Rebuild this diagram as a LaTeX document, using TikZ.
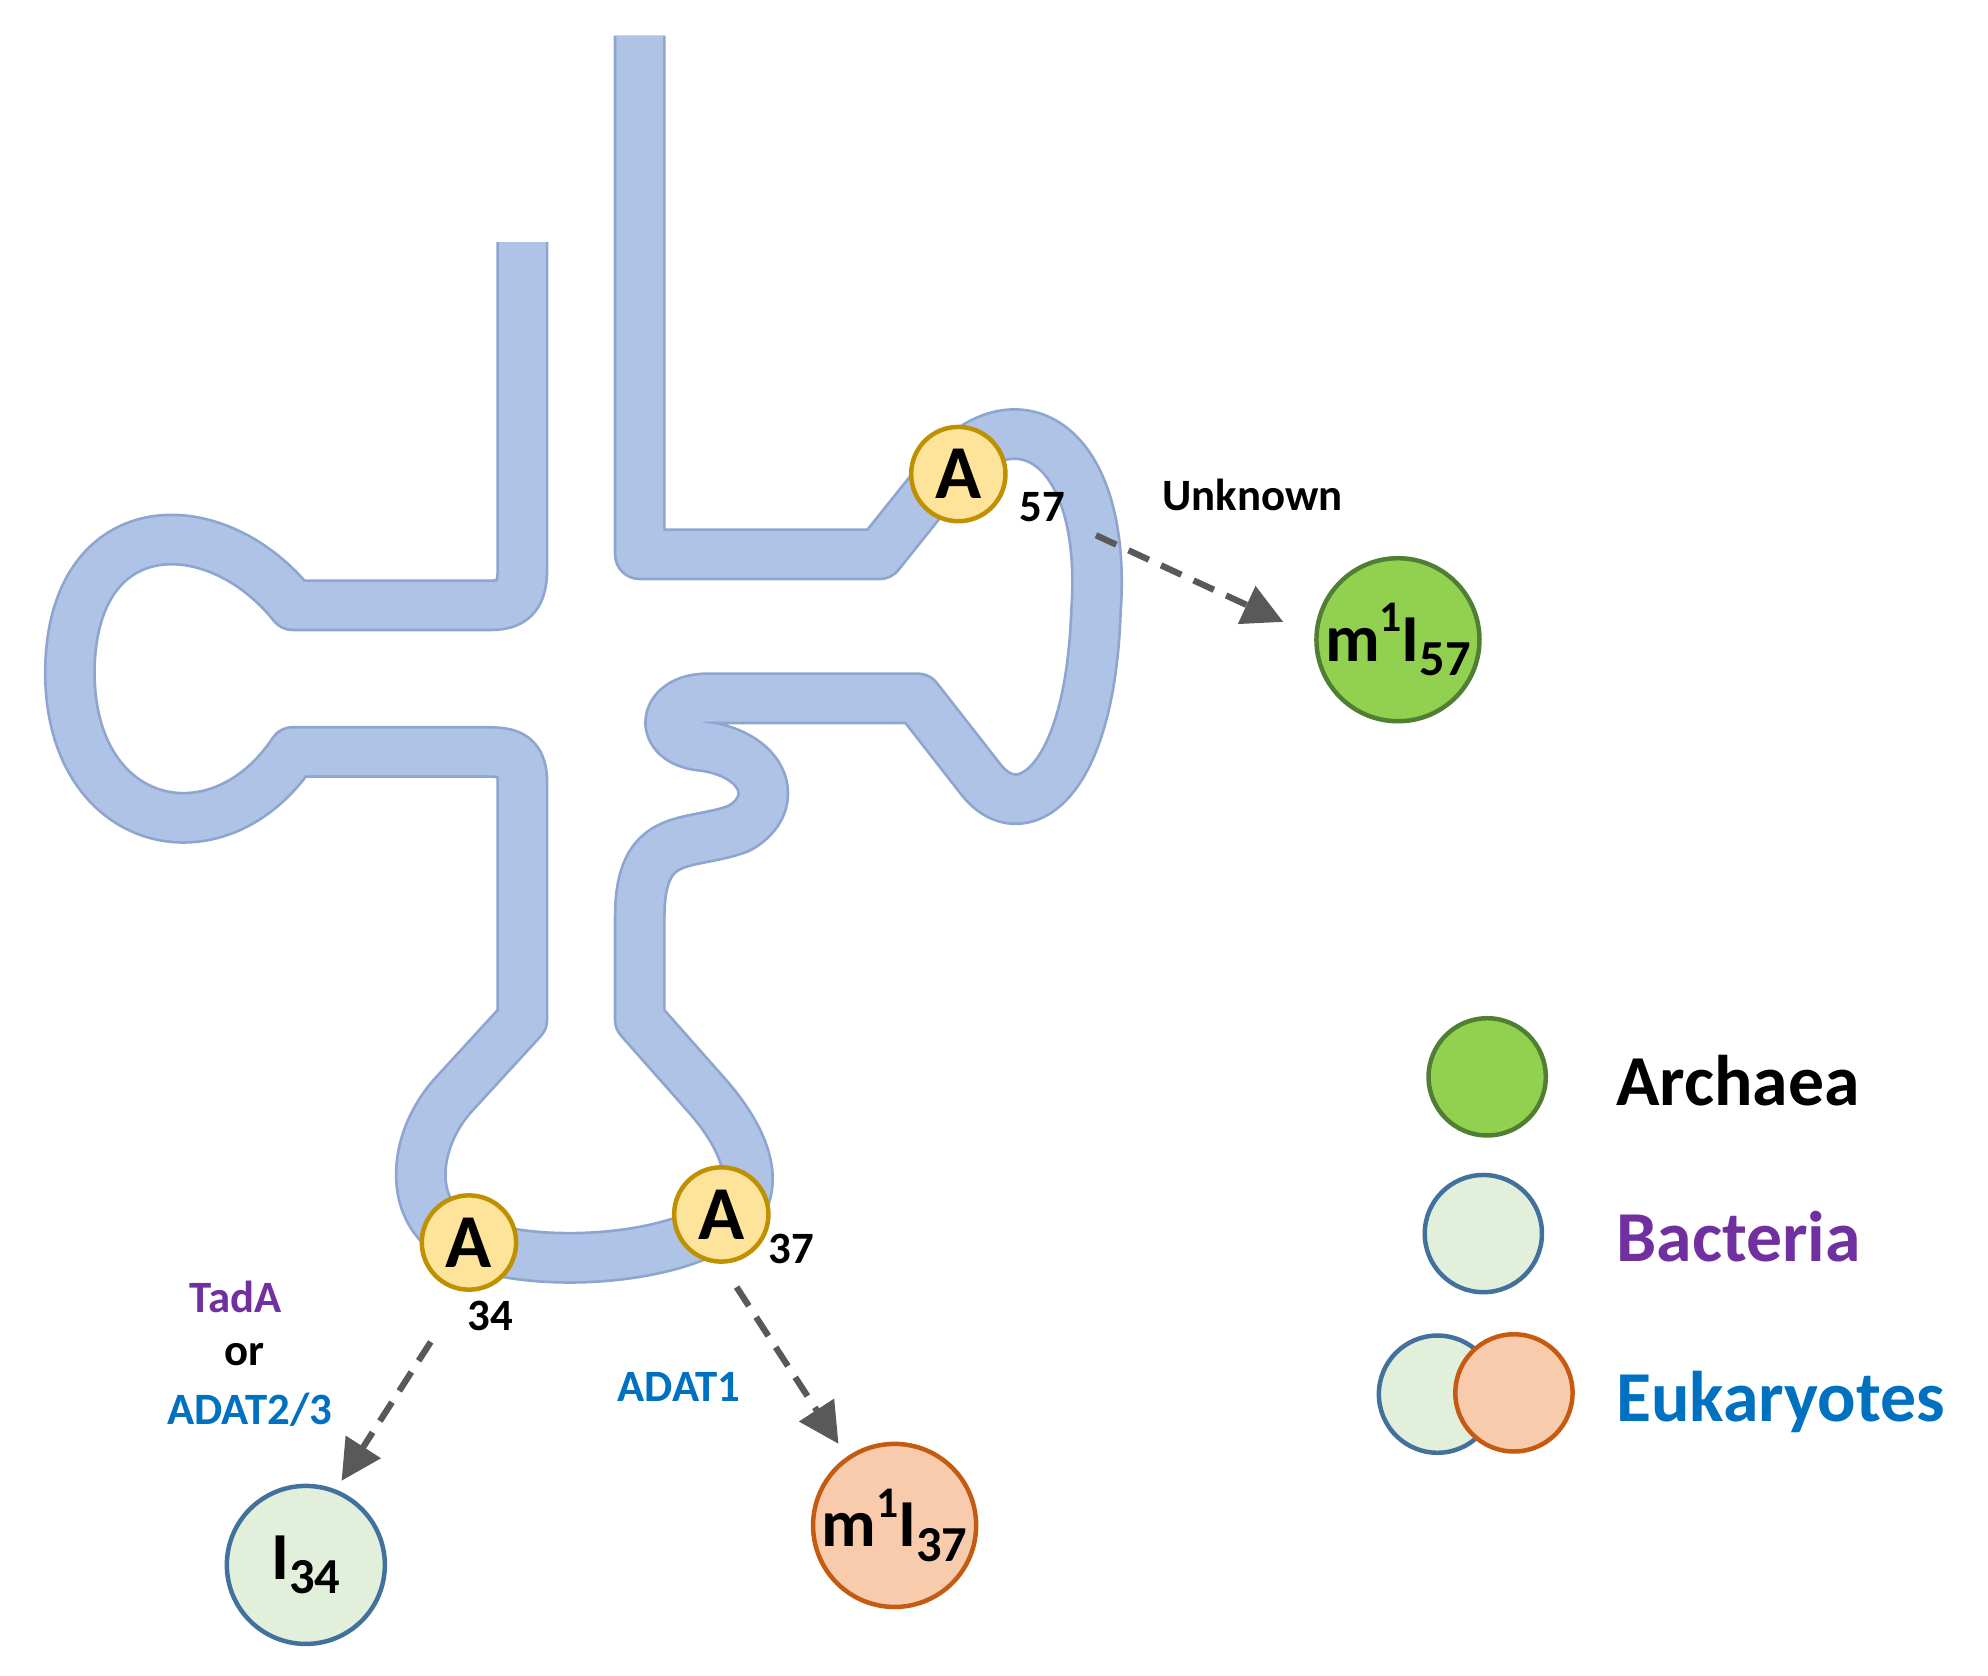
\documentclass[tikz,border=0pt]{standalone}
\usepackage{fontspec}
\setmainfont{Carlito}
\usetikzlibrary{arrows.meta}
\definecolor{tube}{HTML}{AEC3E6}
\definecolor{tubeo}{HTML}{8EA6CF}
\definecolor{ayel}{HTML}{FDE49A}
\definecolor{ayelo}{HTML}{BF9000}
\definecolor{grn}{HTML}{92D050}
\definecolor{grno}{HTML}{507E32}
\definecolor{lgr}{HTML}{E2EFDA}
\definecolor{lgro}{HTML}{41719C}
\definecolor{org}{HTML}{F8CBAD}
\definecolor{orgo}{HTML}{C55A11}
\definecolor{purp}{HTML}{7030A0}
\definecolor{blu}{HTML}{0070C0}
\definecolor{arr}{HTML}{595959}
\newcommand{\supp}[1]{\raisebox{0.9ex}{\scalebox{0.65}{#1}}}
\newcommand{\subb}[1]{\raisebox{-0.45ex}{\scalebox{0.75}{#1}}}
\begin{document}
\begin{tikzpicture}[x=0.01cm,y=-0.01cm,
  anode/.style={circle,fill=ayel,draw=ayelo,line width=1pt,minimum size=74*0.01cm,inner sep=0pt,font=\fontsize{17}{17}\bfseries},
  res/.style={circle,line width=1pt,minimum size=124*0.01cm,inner sep=0pt,font=\fontsize{15}{15}\bfseries},
  leg/.style={circle,line width=1pt,minimum size=92*0.01cm,inner sep=0pt},
  num/.style={font=\fontsize{10}{10}\bfseries},
  lab/.style={font=\fontsize{10}{10}\bfseries},
  legt/.style={anchor=west,font=\fontsize{16}{16}\bfseries},
  darr/.style={arr,line width=1.4pt,dashed,dash pattern=on 5pt off 3pt,-{Triangle[length=9pt,width=9pt]}}]
\useasboundingbox (0,0) rectangle (1560,1315);
\def\tubepath{(502,28) -- (502,435) -- (690,435) -- (730,385) .. controls (790,300) and (870,340) .. (860,480) .. controls (855,620) and (800,650) .. (770,612) -- (720,548) -- (555,548) .. controls (520,548) and (515,580) .. (548,585) .. controls (600,590) and (615,630) .. (580,650) .. controls (540,665) and (502,650) .. (502,720) -- (502,800) -- (555,860) .. controls (590,900) and (600,940) .. (566,960) .. controls (520,990) and (420,995) .. (368,975) .. controls (320,960) and (320,900) .. (355,860) -- (410,800) -- (410,615) .. controls (410,592) and (400,590) .. (380,590) -- (230,590) .. controls (170,680) and (50,650) .. (55,520) .. controls (60,400) and (170,400) .. (230,475) -- (385,475) .. controls (405,475) and (410,465) .. (410,445) -- (410,190)}
\draw[tubeo,line width=11.6pt,line join=round] \tubepath;
\draw[tube,line width=10.4pt,line join=round] \tubepath;
\node[anode] (a57) at (752,372) {A};
\node[anode] (a37) at (566,953) {A};
\node[anode] (a34) at (368,975) {A};
\node[num] (n57) at (818,398) {57};
\node[num] (n37) at (621,980) {37};
\node[num] (n34) at (385,1033) {34};
\node[res,fill=grn,draw=grno] (r57) at (1097,502) {m\supp{1}I\subb{57}};
\node[res,fill=lgr,draw=lgro] (r34) at (240,1228) {I\subb{34}};
\node[res,fill=org,draw=orgo] (r37) at (702,1197) {m\supp{1}I\subb{37}};
\coordinate (s57) at (860,420);
\coordinate (e57) at (1007,488);
\coordinate (s37) at (578,1010);
\coordinate (e37) at (658,1133);
\coordinate (s34) at (338,1053);
\coordinate (e34) at (268,1162);
\draw[darr] (s57) -- (e57);
\draw[darr] (s37) -- (e37);
\draw[darr] (s34) -- (e34);
\node[lab] (unk) at (983,388) {Unknown};
\node[lab,text=purp] (tada) at (185,1018) {TadA};
\node[lab] (or) at (192,1063) {or};
\node[lab,text=blu] (adat23) at (196,1106) {ADAT2/3};
\node[lab,text=blu] (adat1) at (533,1088) {ADAT1};
\node[leg,fill=grn,draw=grno] (l1) at (1167,845) {};
\node[leg,fill=lgr,draw=lgro] (l2) at (1164,968) {};
\node[leg,fill=lgr,draw=lgro] (l3a) at (1128,1094) {};
\node[leg,fill=org,draw=orgo] (l3b) at (1188,1093) {};
\node[legt] (t1) at (1256,848) {Archaea};
\node[legt,text=purp] (t2) at (1256,970) {Bacteria};
\node[legt,text=blu] (t3) at (1256,1100) {Eukaryotes};
\end{tikzpicture}
\end{document}
